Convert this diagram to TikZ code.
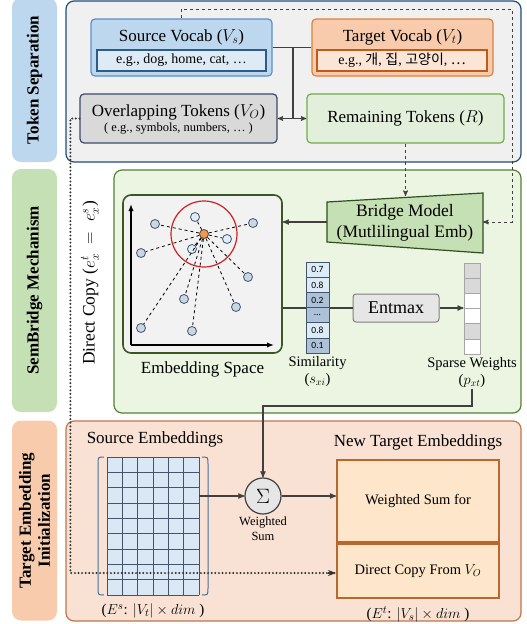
\documentclass[tikz,border=0pt]{standalone}
\usepackage{fontspec}
\setmainfont{Liberation Serif}
\newfontfamily\krfont{Noto Sans CJK KR}
\newfontfamily\calfont{Carlito}
\usepackage{amsmath}
\usetikzlibrary{arrows, arrows.meta, calc, positioning}

\definecolor{tokside}{HTML}{BDD7EE}
\definecolor{semside}{HTML}{C5E0B4}
\definecolor{tgtside}{HTML}{F8CBAD}
\definecolor{tokback}{HTML}{F0F0F0}
\definecolor{tokedge}{HTML}{1F4E79}
\definecolor{semback}{HTML}{EBF5E1}
\definecolor{semedge}{HTML}{548235}
\definecolor{tgtback}{HTML}{F9E2D3}
\definecolor{tgtedge}{HTML}{C0764A}
\definecolor{srcfill}{HTML}{BDD7EE}
\definecolor{srcedge}{HTML}{5B8FC8}
\definecolor{srcinner}{HTML}{DEEBF7}
\definecolor{srcinedge}{HTML}{2E5C8A}
\definecolor{tgtfill}{HTML}{F8CBAD}
\definecolor{tgtvedge}{HTML}{D9823F}
\definecolor{tgtinner}{HTML}{FBE5D6}
\definecolor{tgtinedge}{HTML}{C05A1A}
\definecolor{ovlfill}{HTML}{D9D9D9}
\definecolor{ovledge}{HTML}{3B4A6B}
\definecolor{remfill}{HTML}{E2EFDA}
\definecolor{remedge}{HTML}{70AD47}
\definecolor{bridgefill}{HTML}{C5E0B4}
\definecolor{bridgeedge}{HTML}{2F4F1F}
\definecolor{spaceedge}{HTML}{385723}
\definecolor{spacefill}{HTML}{F2F2F2}
\definecolor{ptdark}{HTML}{C9D6E3}
\definecolor{ptlight}{HTML}{DDEFFA}
\definecolor{ptedge}{HTML}{44546A}
\definecolor{anchorpt}{HTML}{F79646}
\definecolor{ringred}{HTML}{CC2222}
\definecolor{simlight}{HTML}{DDEBF7}
\definecolor{simdark}{HTML}{ADC1D8}
\definecolor{wgray}{HTML}{D9D9D9}
\definecolor{wedge}{HTML}{A6A6A6}
\definecolor{boxgray}{HTML}{E7E6E6}
\definecolor{boxedge}{HTML}{7F7F7F}
\definecolor{matfill}{HTML}{DAE7F4}
\definecolor{bracketcol}{HTML}{41719C}
\definecolor{newfill}{HTML}{FDE6C9}
\definecolor{newedge}{HTML}{B9672C}
\definecolor{wire}{HTML}{404040}

\begin{document}
\begin{tikzpicture}[x=1pt, y=-1pt,
        sidebox/.style={rounded corners=9pt, rotate=90, minimum height=45pt, inner sep=0pt, align=center, font=\fontsize{17}{19}\selectfont\bfseries},
        panel/.style={rounded corners=8pt, line width=1.2pt},
        vocab/.style={rounded corners=4pt, line width=1.2pt, minimum width=181pt, minimum height=57pt},
        example/.style={line width=1.4pt, minimum width=169pt, minimum height=21pt, inner sep=0pt, font=\fontsize{14}{16}\selectfont},
        tokbox/.style={rounded corners=4pt, line width=1.2pt, minimum width=197pt, minimum height=49pt},
        point/.style={circle, draw=ptedge, line width=0.8pt, minimum size=9pt, inner sep=0pt},
        simcell/.style={draw=ptedge, line width=0.8pt, minimum width=23pt, minimum height=15.2pt, inner sep=0pt, font=\calfont\fontsize{9.5}{10}\selectfont},
        wcell/.style={draw=wedge, line width=0.9pt, minimum width=16pt, minimum height=15.2pt, inner sep=0pt},
        smalltext/.style={font=\fontsize{14.5}{17}\selectfont, align=center, inner sep=1pt},
        copyline/.style={line width=2.2pt, dash pattern=on 0pt off 3.6pt, line cap=round, draw=black!80},
        >=stealth', thick, draw=wire]
    \tikzstyle{every node}=[font=\fontsize{17}{19.5}\selectfont]
    \useasboundingbox (0,0) rectangle (527,624);

    % side labels
    \node[sidebox, fill=tokside, minimum width=164pt] (tokside) at (34.5,80) {Token Separation};
    \node[sidebox, fill=semside, minimum width=243pt] (semside) at (34.5,290.5) {SemBridge Mechanism};
    \node[sidebox, fill=tgtside, minimum width=200pt] (tgtside) at (34.5,520.5) {Target Embedding\\Initialization};

    % panels
    \draw[panel, fill=tokback, draw=tokedge] (66,1) rectangle (521,162);
    \draw[panel, fill=semback, draw=semedge] (114,170) rectangle (521,413);
    \draw[panel, fill=tgtback, draw=tgtedge] (66,421) rectangle (521,621);

    % token separation
    \node[vocab, fill=srcfill, draw=srcedge] (src) at (181.5,47.5) {};
    \node (srcname) at (181.5,37) {Source Vocab ($V_s$)};
    \node[example, fill=srcinner, draw=srcinedge] (srcex) at (181.5,60.5) {e.g., dog, home, cat, \ldots};
    \node[vocab, fill=tgtfill, draw=tgtvedge] (tgt) at (402.5,47.5) {};
    \node (tgtname) at (402.5,37) {Target Vocab ($V_t$)};
    \node[example, fill=tgtinner, draw=tgtinedge, minimum width=170pt] (tgtex) at (402,60.5)
        {e.g., {\krfont 개}, {\krfont 집}, {\krfont 고양이}, {\krfont ⋯}};
    \node[tokbox, fill=ovlfill, draw=ovledge] (ovl) at (178.5,118.5) {};
    \node (ovlname) at (178.5,112) {Overlapping Tokens ($V_O$)};
    \node[font=\fontsize{12.5}{14}\selectfont] (ovlex) at (178.5,129) {( e.g., symbols, numbers, \ldots{} )};
    \node[tokbox, fill=remfill, draw=remedge] (rem) at (405.5,118.5) {Remaining Tokens ($R$)};

    \coordinate (split) at (293,47.5);
    \draw[line width=1.2pt] (src.east) -- (tgt.west);
    \draw[line width=1.2pt] (split) -- (split |- ovl.east);
    \draw[<->, line width=1pt] (ovl.east) -- (rem.west);

    % semantic bridge
    \draw[line width=1.2pt, fill=bridgefill, draw=bridgeedge] (327,202) -- (483,193) -- (483,253) -- (327,242) -- cycle;
    \node[align=center, font=\fontsize{17.5}{21}\selectfont] (bridge) at (405,222.5) {Bridge Model\\(Mutlilingual Emb)};
    \coordinate (bridgeL) at (327,222);
    \coordinate (bridgeR) at (483,222);
    \coordinate (bridgeT) at (405.5,196);
    \coordinate (dtop) at (512,9);

    \draw[dashed, ->, line width=1pt] (src.north) |- (dtop) |- (bridgeR);
    \draw[dashed, ->, line width=1pt] (rem.south) -- (bridgeT);

    \node[draw=spaceedge, fill=spacefill, line width=1.6pt, rounded corners=8pt,
          minimum width=159pt, minimum height=158pt] (space) at (202.5,274) {};
    \draw[->, line width=1.2pt] (bridgeL) -- (bridgeL -| space.east);
    \coordinate (origin) at (131,345);
    \draw[-{Latex[length=7pt]}, line width=1.2pt, black] (origin) -- (131,204);
    \draw[-{Latex[length=7pt]}, line width=1.2pt, black] (origin) -- (274,345);

    \draw[ringred, line width=1.2pt] (204,234) circle (33);
    \node[point, fill=anchorpt, draw=black!70] (ctr) at (204,234) {};
    \foreach \px/\py/\c [count=\i] in {155/224/ptdark, 195/217/ptlight, 253/223/ptdark,
            227/239/ptlight, 192/249/ptlight, 141/253/ptdark, 248/277/ptdark,
            184/299/ptdark, 236/307/ptdark, 141/328/ptdark, 192/331/ptdark} {
        \node[point, fill=\c] (p\i) at (\px,\py) {};
        \draw[dashed, line width=0.8pt, black] (ctr) -- (p\i);
    }
    \node[below=4pt of space] (spacename) {Embedding Space};

    \node[rounded corners=3pt, fill=boxgray, draw=boxedge, line width=1pt,
          minimum width=86pt, minimum height=28pt, font=\fontsize{18}{20}\selectfont] (entmax) at (396,308) {Entmax};
    \draw[line width=1.2pt] (space.east |- entmax.west) -- (entmax.west);
    \foreach \v/\c [count=\i] in {0.7/simlight, 0.8/simlight, 0.2/simdark, \ldots/simdark, 0.8/simlight, 0.1/simdark} {
        \node[simcell, fill=\c] (sim\i) at (317.5,{254.4+15.2*\i}) {\v};
    }
    \foreach \c [count=\i] in {wgray, wgray, white, white, wgray, white} {
        \node[wcell, fill=\c] (w\i) at (472,{255.4+15.2*\i}) {};
    }
    \draw[->, line width=1.2pt] (entmax.east) -- (entmax.east -| w4.west);
    \node[smalltext, below=1pt of sim6] (simname) {Similarity\\($s_{xi}$)};
    \node[smalltext, below=1pt of w6] (wname) {Sparse Weights\\($p_{xt}$)};

    % target embedding initialization
    \node (srcembname) at (155,439) {Source Embeddings};
    \node[fill=matfill, inner sep=0pt, minimum width=92pt, minimum height=138pt] (srcmat) at (153,526) {};
    \foreach \i in {0,...,6} {
        \draw[ptedge, line width=1pt] ({107+\i*15.333},457) -- ({107+\i*15.333},595);
    }
    \foreach \j in {0,...,9} {
        \draw[ptedge, line width=1pt] (107,{457+\j*15.333}) -- (199,{457+\j*15.333});
    }
    \draw[bracketcol, line width=1pt] (104,457) .. controls (98,457) .. (98,464) -- (98,588) .. controls (98,595) .. (104,595);
    \draw[bracketcol, line width=1pt] (202,457) .. controls (208,457) .. (208,464) -- (208,588) .. controls (208,595) .. (202,595);
    \node[font=\fontsize{15}{17}\selectfont] (srcmatdim) at (153,611) {($E^s$: $|V_t| \times dim$ )};

    \node[circle, fill=boxgray, draw=wire, line width=1.2pt, minimum size=36pt, inner sep=0pt,
          font=\fontsize{22}{24}\selectfont] (sum) at (263,496) {$\Sigma$};
    \node[below=1pt of sum, align=center, font=\fontsize{12.5}{14.5}\selectfont, inner sep=1pt] (sumname) {Weighted\\Sum};

    \node[draw=newedge, fill=newfill, line width=2pt, minimum width=162pt, minimum height=82pt,
          font=\fontsize{14.5}{17}\selectfont] (ws) at (418,501) {Weighted Sum for};
    \node[draw=newedge, fill=newfill, line width=2pt, minimum width=162pt, minimum height=54pt,
          font=\fontsize{14.5}{17}\selectfont, below=0pt of ws] (dc) {Direct Copy From $V_O$};
    \node[above=5pt of ws] (newname) {New Target Embeddings};
    \node[font=\fontsize{15}{17}\selectfont, below=4pt of dc] (newdim) {($E^t$: $|V_s| \times dim$ )};

    \draw[->, line width=1.2pt] (srcmat.east |- sum.west) -- (sum.west);
    \draw[->, line width=1.2pt] (sum.east) -- (sum.east -| ws.west);
    \coordinate (turn) at (472,406);
    \draw[->, line width=1.2pt] (wname.south) |- (turn) -| (sum.north);

    % direct copy path
    \coordinate (dcin) at (dc.west |- 0,573);
    \draw[copyline] (ovl.west) -- ++(-9,0) |- (dcin);
    \draw[-{Stealth[length=8pt]}, black!80, line width=1.2pt] (dcin) ++(-8,0) -- (dcin);
    \node[rotate=90, font=\fontsize{17.5}{19}\selectfont] (copyname) at (90,283) {Direct Copy ($e_x^t \;=\; e_x^s$)};
\end{tikzpicture}
\end{document}
